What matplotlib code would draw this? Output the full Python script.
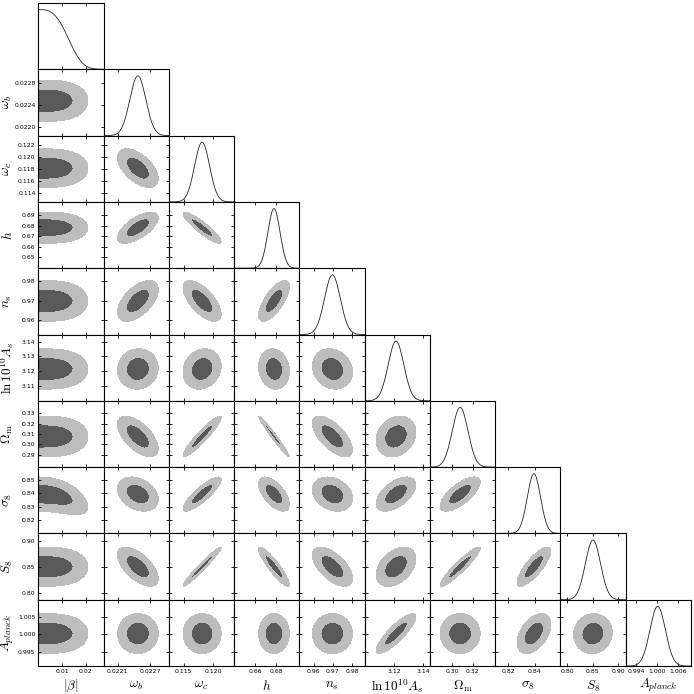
import numpy as np
import matplotlib
matplotlib.use('Agg')
import matplotlib.pyplot as plt

plt.rcParams['mathtext.fontset'] = 'cm'

names = [r'$|\beta|$', r'$\omega_b$', r'$\omega_c$', r'$h$', r'$n_s$',
         r'$\ln10^{10}A_s$', r'$\Omega_{\rm m}$', r'$\sigma_8$', r'$S_8$', r'$A_{planck}$']
means = [0.0, 0.02247, 0.1181, 0.678, 0.9698, 3.1214, 0.3076, 0.8395, 0.8505, 1.0002]
sigmas = [0.01162, 0.000147, 0.00126, 0.0058, 0.0041, 0.0054, 0.0077, 0.0050, 0.0148, 0.00225]
lo = [0.0, 0.02184, 0.1125, 0.6397, 0.9526, 3.0997, 0.278, 0.8102, 0.787, 0.9909]
hi = [0.0276, 0.02304, 0.1235, 0.7024, 0.9866, 3.1449, 0.342, 0.8596, 0.9146, 1.0099]

# lower triangle of correlations (row i, columns 1..i-1), beta handled separately
corr = [
    [],
    [],
    [-0.55],
    [0.65, -0.9],
    [0.55, -0.65, 0.7],
    [0.05, 0.15, -0.1, -0.15],
    [-0.6, 0.93, -0.98, -0.65, 0.2],
    [-0.3, 0.85, -0.6, -0.25, 0.55, 0.7],
    [-0.6, 0.97, -0.9, -0.6, 0.4, 0.93, 0.8],
    [0.0, 0.0, 0.0, 0.0, 0.85, 0.0, 0.45, 0.05],
]
beta_power = 3.17
beta_bend = [0, 0, 0, 0, 0, 0, 0, 22.0, 0, 0]   # shift of the mean with beta^2

xticks = [[0.01, 0.02], [0.0221, 0.0227], [0.115, 0.120], [0.66, 0.68], [0.96, 0.97, 0.98],
          [3.12, 3.14], [0.30, 0.32], [0.82, 0.84], [0.80, 0.85, 0.90], [0.994, 1.000, 1.006]]
xlabels = [['0.01', '0.02'], ['0.0221', '0.0227'], ['0.115', '0.120'], ['0.66', '0.68'],
           ['0.96', '0.97', '0.98'], ['3.12', '3.14'], ['0.30', '0.32'], ['0.82', '0.84'],
           ['0.80', '0.85', '0.90'], ['0.994', '1.000', '1.006']]
yticks = [[], [0.0220, 0.0224, 0.0228], [0.114, 0.116, 0.118, 0.120, 0.122],
          [0.65, 0.66, 0.67, 0.68, 0.69], [0.96, 0.97, 0.98], [3.11, 3.12, 3.13, 3.14],
          [0.29, 0.30, 0.31, 0.32, 0.33], [0.82, 0.83, 0.84, 0.85], [0.80, 0.85, 0.90],
          [0.995, 1.000, 1.005]]
ylabels = [[], ['0.0220', '0.0224', '0.0228'], ['0.114', '0.116', '0.118', '0.120', '0.122'],
           ['0.65', '0.66', '0.67', '0.68', '0.69'], ['0.96', '0.97', '0.98'],
           ['3.11', '3.12', '3.13', '3.14'], ['0.29', '0.30', '0.31', '0.32', '0.33'],
           ['0.82', '0.83', '0.84', '0.85'], ['0.80', '0.85', '0.90'],
           ['0.995', '1.000', '1.005']]

r1, r2 = 1.45, 2.55
dark = '#595959'
light = '#bdbdbd'
n = len(names)

fig, axes = plt.subplots(n, n, figsize=(6.94, 6.94), dpi=100)
plt.subplots_adjust(left=0.0552, right=0.9957, top=0.9957, bottom=0.0403, wspace=0, hspace=0)

for i in range(n):
    for j in range(n):
        ax = axes[i, j]
        if j > i:
            ax.axis('off')
            continue
        x = np.linspace(lo[j], hi[j], 300)
        if i == j:
            if j == 0:
                p = np.exp(-0.5 * (x / sigmas[0]) ** beta_power)
            else:
                p = np.exp(-0.5 * ((x - means[j]) / sigmas[j]) ** 2)
            ax.plot(x, p, color='#222222', lw=0.6)
            ax.set_ylim(0, 1.11)
            ax.set_yticks([])
        else:
            y = np.linspace(lo[i], hi[i], 300)
            X, Y = np.meshgrid(x, y)
            if j == 0:
                dy = (Y - means[i] + beta_bend[i] * X ** 2) / sigmas[i]
                chi2 = (X / sigmas[0]) ** beta_power + dy ** 2
            else:
                rho = corr[i][j - 1]
                dx = (X - means[j]) / sigmas[j]
                dy = (Y - means[i]) / sigmas[i]
                chi2 = (dx ** 2 - 2 * rho * dx * dy + dy ** 2) / (1 - rho ** 2)
            ax.contourf(X, Y, chi2, levels=[0, r1 ** 2, r2 ** 2], colors=[dark, light])
            ax.set_ylim(lo[i], hi[i])
            ax.set_yticks(yticks[i])
            if j == 0:
                ax.set_yticklabels(ylabels[i])
                ax.set_ylabel(names[i], fontsize=9.5, va='center', ha='center')
                ax.yaxis.set_label_coords(-0.47, 0.5)
            else:
                ax.set_yticklabels([])
        ax.set_xlim(lo[j], hi[j])
        ax.set_xticks(xticks[j])
        if i == n - 1:
            ax.set_xticklabels(xlabels[j])
            ax.set_xlabel(names[j], fontsize=9.5, va='center', ha='center')
            ax.xaxis.set_label_coords(0.5, -0.30)
        else:
            ax.set_xticklabels([])
        ax.tick_params(direction='in', length=2.5, width=0.6, top=True, right=True,
                       labelsize=4.4, pad=2)
        for s in ax.spines.values():
            s.set_linewidth(0.8)

plt.savefig('out.png', dpi=100)
